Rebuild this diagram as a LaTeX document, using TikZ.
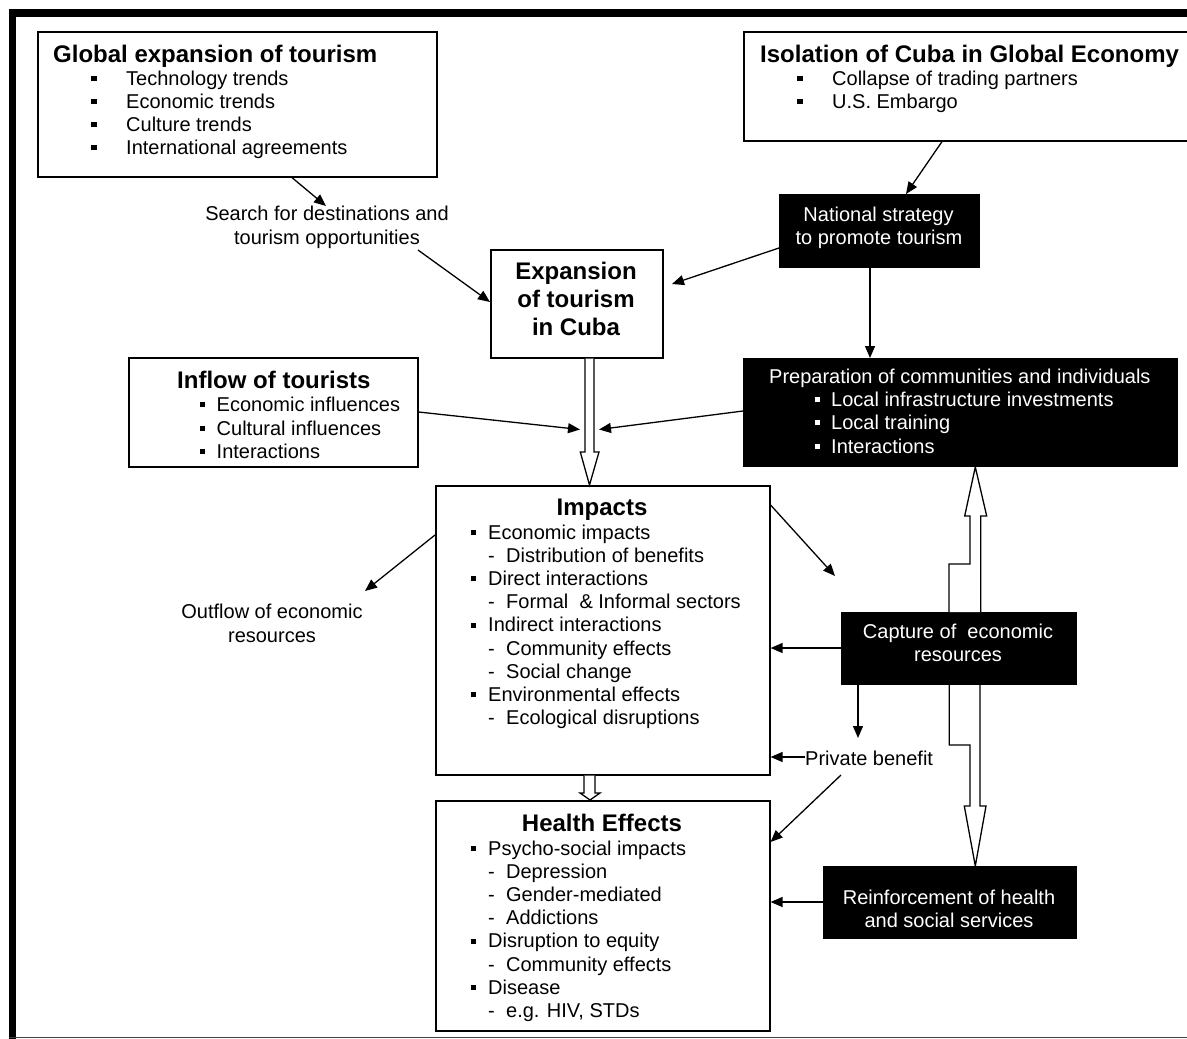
\documentclass[tikz,border=0pt]{standalone}
\usepackage{fontspec}
\setmainfont{Liberation Sans}
\usetikzlibrary{arrows.meta}
\newcommand\sqb{\rule[4pt]{5.5pt}{5.5pt}}
\newcommand\sqs{\rule[4pt]{5pt}{5pt}}
\begin{document}
\begin{tikzpicture}[x=1pt,y=-1pt,
  box/.style={draw, line width=1.6pt, fill=white, inner sep=0, anchor=north west},
  bbox/.style={draw, fill=black, line width=1pt, inner sep=0, anchor=north west},
  txt/.style={inner sep=0, anchor=base west, font=\fontsize{20}{23}\selectfont},
  ctxt/.style={txt, anchor=base},
  wtxt/.style={txt, text=white},
  wctxt/.style={txt, anchor=base, text=white},
  ttl/.style={inner sep=0, anchor=base west, font=\fontsize{24}{28}\selectfont\bfseries},
  cttl/.style={ttl, anchor=base},
  arr/.style={-{Triangle[length=12pt,width=10pt]}, line width=1.3pt},
  hollow/.style={draw, fill=white, line width=1.3pt, line join=miter}]
\useasboundingbox (0,0) rectangle (1187,1039);
% frame
\draw[line width=7.5pt, line join=miter] (12.5,1040) -- (12.5,13) -- (1200,13);
\draw[line width=1.5pt, black!75] (9,1037.5) -- (1187,1037.5);

% ---- boxes
\node[box, minimum width=399, minimum height=145] (glob) at (37,31) {};
\node[box, minimum width=457, minimum height=109] (iso) at (743,31) {};
\node[bbox, minimum width=200, minimum height=73] (nat) at (779,194) {};
\node[box, minimum width=172, minimum height=108] (exp) at (490,249) {};
\node[box, minimum width=289, minimum height=109] (inf) at (128,357) {};
\node[bbox, minimum width=434, minimum height=108] (prep) at (743,358) {};
\node[box, minimum width=334, minimum height=289] (imp) at (435,485) {};
\node[box, minimum width=334, minimum height=230] (hlt) at (435,800) {};
\node[bbox, minimum width=235, minimum height=72] (cap) at (841,612) {};
\node[bbox, minimum width=253, minimum height=72] (rein) at (823,866) {};

% ---- global expansion
\node[ttl] (globT) at (53,62) {Global expansion of tourism};
\node[txt] (g1) at (91,85) {\makebox[35pt][l]{\sqb}Technology trends};
\node[txt] (g2) at (91,108) {\makebox[35pt][l]{\sqb}Economic trends};
\node[txt] (g3) at (91,131) {\makebox[35pt][l]{\sqb}Culture trends};
\node[txt] (g4) at (91,154) {\makebox[35pt][l]{\sqb}International agreements};

% ---- isolation
\node[ttl] (isoT) at (760,62) {Isolation of Cuba in Global Economy};
\node[txt] (i1) at (797,85) {\makebox[35pt][l]{\sqb}Collapse of trading partners};
\node[txt] (i2) at (797,108) {\makebox[35pt][l]{\sqb}U.S. Embargo};

% ---- national strategy
\node[wctxt] (n1) at (878.5,221) {National strategy};
\node[wctxt] (n2) at (879,244) {to promote tourism};

% ---- search label
\node[ctxt] (s1) at (327,220) {Search for destinations and};
\node[ctxt] (s2) at (327,244) {tourism opportunities};

% ---- expansion
\node[cttl] (e1) at (576,279) {Expansion};
\node[cttl] (e2) at (576,307) {of tourism};
\node[cttl] (e3) at (576,335) {in Cuba};

% ---- inflow
\node[ttl] (infT) at (177,388) {Inflow of tourists};
\node[txt] (f1) at (200,411) {\makebox[16.5pt][l]{\sqs}Economic influences};
\node[txt] (f2) at (200,435) {\makebox[16.5pt][l]{\sqs}Cultural influences};
\node[txt] (f3) at (200,458) {\makebox[16.5pt][l]{\sqs}Interactions};

% ---- preparation
\node[wtxt] (pT) at (769,383) {Preparation of communities and individuals};
\node[wtxt] (p1) at (815,406) {\makebox[16pt][l]{\sqs}Local infrastructure investments};
\node[wtxt] (p2) at (815,429) {\makebox[16pt][l]{\sqs}Local training};
\node[wtxt] (p3) at (815,453) {\makebox[16pt][l]{\sqs}Interactions};

% ---- impacts
\node[cttl] (impT) at (602,515) {Impacts};
\node[txt] (m1) at (471,539) {\makebox[17pt][l]{\sqs}Economic impacts};
\node[txt] (m2) at (488,562.2) {\makebox[18pt][l]{-}Distribution of benefits};
\node[txt] (m3) at (471,585.4) {\makebox[17pt][l]{\sqs}Direct interactions};
\node[txt] (m4) at (488,608.6) {\makebox[18pt][l]{-}Formal~ \& Informal sectors};
\node[txt] (m5) at (471,631.8) {\makebox[17pt][l]{\sqs}Indirect interactions};
\node[txt] (m6) at (488,655) {\makebox[18pt][l]{-}Community effects};
\node[txt] (m7) at (488,678.2) {\makebox[18pt][l]{-}Social change};
\node[txt] (m8) at (471,701.4) {\makebox[17pt][l]{\sqs}Environmental effects};
\node[txt] (m9) at (488,724.6) {\makebox[18pt][l]{-}Ecological disruptions};

% ---- health
\node[cttl] (hT) at (602,831) {Health Effects};
\node[txt] (h1) at (471,855) {\makebox[17pt][l]{\sqs}Psycho-social impacts};
\node[txt] (h2) at (488,878.2) {\makebox[18pt][l]{-}Depression};
\node[txt] (h3) at (488,901.4) {\makebox[18pt][l]{-}Gender-mediated};
\node[txt] (h4) at (488,924.6) {\makebox[18pt][l]{-}Addictions};
\node[txt] (h5) at (471,947.8) {\makebox[17pt][l]{\sqs}Disruption to equity};
\node[txt] (h6) at (488,971) {\makebox[18pt][l]{-}Community effects};
\node[txt] (h7) at (471,994.2) {\makebox[17pt][l]{\sqs}Disease};
\node[txt] (h8) at (488,1017.4) {\makebox[18pt][l]{-}e.g. HIV, STDs};

% ---- outflow / capture / private / reinforcement
\node[ctxt] (o1) at (272,618) {Outflow of economic};
\node[ctxt] (o2) at (272,642) {resources};
\node[wctxt] (c1) at (958,638) {Capture of~ economic};
\node[wctxt] (c2) at (958,661) {resources};
\node[txt] (pb) at (805,765) {Private benefit};
\node[wctxt] (r1) at (949,904) {Reinforcement of health};
\node[wctxt] (r2) at (949,927) {and social services};

% ---- free arrow ends
\coordinate (tS) at (326,206);
\coordinate (sS) at (418,250);
\coordinate (tNE) at (672,284);
\coordinate (tIn) at (580,429.5);
\coordinate (tPr) at (599,429.5);
\coordinate (tOut) at (365,591);
\coordinate (tRt) at (835,576);
\coordinate (tCap) at (858,738);
\coordinate (sPb) at (841,775);

% ---- arrows
\draw[arr] (glob.south -| 292,0) -- (tS);
\draw[arr] (sS) -- (exp.west |- 0,302);
\draw[arr] (iso.south -| 942,0) -- (nat.north -| 906,0);
\draw[arr] (nat.west |- 0,248) -- (tNE);
\draw[arr] (nat.south -| 870,0) -- (prep.north -| 870,0);
\draw[arr] (inf.east |- 0,412) -- (tIn);
\draw[arr] (prep.west |- 0,411) -- (tPr);
\draw[arr] (imp.west |- 0,535) -- (tOut);
\draw[arr] (imp.east |- 0,505) -- (tRt);
\draw[arr] (cap.west |- 0,648) -- (imp.east |- 0,648);
\draw[arr] (cap.south -| tCap) -- (tCap);
\draw[arr] (pb.west |- 0,757) -- (imp.east |- 0,757);
\draw[arr] (sPb) -- (hlt.east |- 0,842);
\draw[arr] (rein.west |- 0,902) -- (hlt.east |- 0,902);

% ---- hollow arrows
\filldraw[hollow] (exp.south -| 585,0) -- (585,452) -- (580.3,452) -- (imp.north -| 589.5,0) -- (599,452) -- (594,452) -- (exp.south -| 594,0);
\filldraw[hollow] (imp.south -| 584,0) -- (584,793) -- (580,793) -- (hlt.north -| 590,0) -- (600,793) -- (595,793) -- (imp.south -| 595,0);
\filldraw[hollow] (cap.north -| 949,0) -- (949,564) -- (970,564) -- (970,516) -- (964.7,516) -- (prep.south -| 975.3,0) -- (986.7,516) -- (980.7,516) -- (cap.north -| 980.7,0);
\filldraw[hollow] (cap.south -| 949.3,0) -- (949.3,745) -- (970,745) -- (970,806) -- (964.3,806) -- (rein.north -| 975.3,0) -- (986,806) -- (980,806) -- (cap.south -| 980,0);
\end{tikzpicture}
\end{document}
